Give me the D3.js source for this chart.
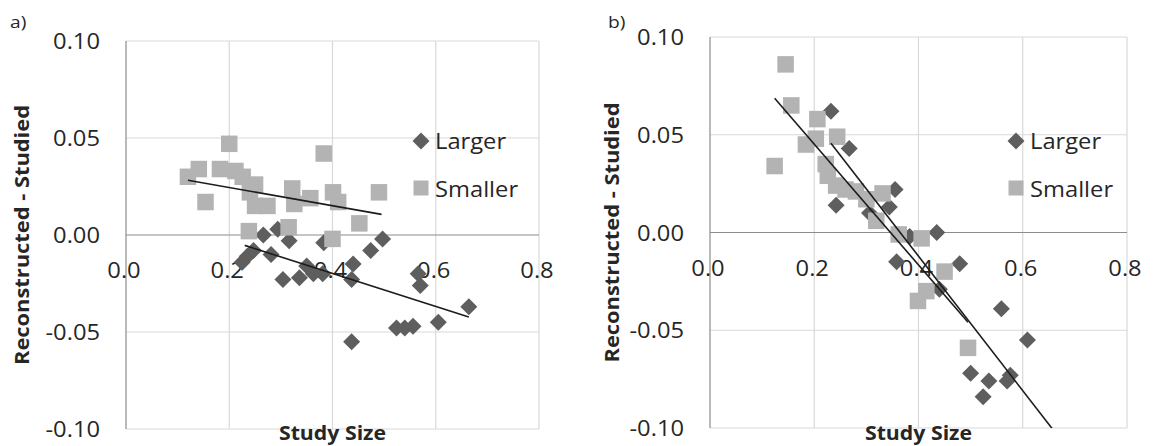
<!DOCTYPE html>
<html><head><meta charset="utf-8">
<script src="https://cdn.jsdelivr.net/npm/d3@7"></script>
<style>body{margin:0;background:#fff}svg{display:block}</style>
</head><body><svg id="c" width="1160" height="446"></svg>
<script>
// ---------------- data ----------------
const xTicks = [0, 0.2, 0.4, 0.6, 0.8];
const xTickLabels = ["0.0", "0.2", "0.4", "0.6", "0.8"];
const yTicks = [0.10, 0.05, 0, -0.05, -0.10];
const yTickLabels = ["0.10", "0.05", "0.00", "-0.05", "-0.10"];
const seriesNames = ["Larger", "Smaller"];
const panelLabels = ["a)", "b)"];
const xTitle = "Study Size";
const yTitle = "Reconstructed - Studied";

// panel a
const aLargerX = [0.225,0.235,0.247,0.266,0.281,0.294,0.304,0.316,0.336,0.350,0.363,0.381,0.383,0.437,0.440,0.437,0.474,0.497,0.524,0.540,0.556,0.566,0.570,0.605,0.664];
const aLargerY = [-0.014,-0.011,-0.008,0.000,-0.010,0.003,-0.023,-0.003,-0.022,-0.016,-0.020,-0.020,-0.004,-0.023,-0.015,-0.055,-0.008,-0.002,-0.048,-0.048,-0.047,-0.020,-0.026,-0.045,-0.037];
const aSmallerX = [0.120,0.141,0.154,0.182,0.200,0.212,0.226,0.240,0.250,0.250,0.274,0.238,0.315,0.322,0.326,0.357,0.383,0.401,0.411,0.400,0.452,0.490];
const aSmallerY = [0.030,0.034,0.017,0.034,0.047,0.033,0.030,0.022,0.026,0.015,0.015,0.002,0.004,0.024,0.016,0.019,0.042,0.022,0.017,-0.002,0.006,0.022];
const aLargerTrend = {x: [0.230, 0.664], slope: -0.085, intercept: 0.0142};
const aSmallerTrend = {x: [0.120, 0.495], slope: -0.047, intercept: 0.0339};

// panel b
const bLargerX = [0.232,0.267,0.242,0.306,0.344,0.355,0.383,0.358,0.435,0.479,0.440,0.559,0.609,0.500,0.535,0.570,0.576,0.524];
const bLargerY = [0.062,0.043,0.014,0.010,0.013,0.022,-0.002,-0.015,0.000,-0.016,-0.029,-0.039,-0.055,-0.072,-0.076,-0.076,-0.073,-0.084];
const bSmallerX = [0.124,0.145,0.156,0.184,0.203,0.206,0.222,0.226,0.244,0.242,0.260,0.280,0.300,0.331,0.319,0.362,0.406,0.450,0.415,0.399,0.495];
const bSmallerY = [0.034,0.086,0.065,0.045,0.048,0.058,0.035,0.029,0.049,0.024,0.022,0.021,0.017,0.020,0.006,-0.001,-0.003,-0.020,-0.030,-0.035,-0.059];
const bLargerTrend = {x: [0.232, 0.664], slope: -0.344, intercept: 0.1255};
const bSmallerTrend = {x: [0.124, 0.495], slope: -0.309, intercept: 0.107};

// ---------------- layout ----------------
const COL = {larger: "#5e5e5e", smaller: "#b3b3b3", grid: "#d9d9d9", axis: "#8c8c8c", text: "#262626", trend: "#1c1c1c"};
const FONT = "'Open Sans', 'Noto Sans', sans-serif";
const SX = 1.13; // horizontal stretch of the reference text

const panels = [
  {id: "a", left: 126, right: 539, top: 41, bottom: 429, label: [10, 28], yTitleX: 22, legend: [421, 141],
   larger: d3.zip(aLargerX, aLargerY), smaller: d3.zip(aSmallerX, aSmallerY), lt: aLargerTrend, st: aSmallerTrend},
  {id: "b", left: 710, right: 1127, top: 37, bottom: 428, label: [608, 28], yTitleX: 612, legend: [1016, 141],
   larger: d3.zip(bLargerX, bLargerY), smaller: d3.zip(bSmallerX, bSmallerY), lt: bLargerTrend, st: bSmallerTrend}
];

const svg = d3.select("#c");

function txt(g, x, y, s, o = {}) {
  return g.append("text")
    .attr("transform", `translate(${x},${y})${o.rot ? " rotate(" + o.rot + ")" : ""} scale(${o.sx || SX},1)`)
    .attr("text-anchor", o.anchor || "start")
    .attr("font-family", FONT)
    .attr("font-size", o.size || 21)
    .attr("font-weight", o.bold ? 700 : 400)
    .attr("fill", COL.text)
    .text(s);
}

const diamond = d3.symbol().type(d3.symbolDiamond2 || d3.symbolDiamond);
function diamondPath(r) { return `M0,${-r}L${r},0L0,${r}L${-r},0Z`; }

panels.forEach((p, i) => {
  const x = d3.scaleLinear().domain([0, 0.8]).range([p.left, p.right]);
  const y = d3.scaleLinear().domain([-0.1, 0.1]).range([p.bottom, p.top]);
  const g = svg.append("g");

  // grid
  g.selectAll(".gx").data(xTicks.filter(d => d !== 0)).join("line")
    .attr("x1", d => x(d)).attr("x2", d => x(d)).attr("y1", y(0.1)).attr("y2", y(-0.1))
    .attr("stroke", COL.grid).attr("stroke-width", 1.2);
  g.selectAll(".gy").data(yTicks.filter(d => d !== 0)).join("line")
    .attr("x1", x(0)).attr("x2", x(0.8)).attr("y1", d => y(d)).attr("y2", d => y(d))
    .attr("stroke", COL.grid).attr("stroke-width", 1.2);
  // axes lines
  g.append("line").attr("x1", x(0)).attr("x2", x(0)).attr("y1", y(0.1)).attr("y2", y(-0.1))
    .attr("stroke", COL.axis).attr("stroke-width", 1.2);
  g.append("line").attr("x1", x(0)).attr("x2", x(0.8)).attr("y1", y(0)).attr("y2", y(0))
    .attr("stroke", COL.axis).attr("stroke-width", 1.2);

  // tick labels
  yTicks.forEach((t, k) => txt(g, x(0) - 26, y(t) + 8, yTickLabels[k], {anchor: "end"}));
  xTicks.forEach((t, k) => txt(g, x(t) - 2, y(0) + 43, xTickLabels[k], {anchor: "middle"}));

  // titles
  txt(g, p.yTitleX + 7, (p.top + p.bottom) / 2, yTitle, {anchor: "middle", rot: -90, bold: true, size: 19, sx: 1.15});
  txt(g, (p.left + p.right) / 2, 440, xTitle, {anchor: "middle", bold: true, size: 19, sx: 1.12});
  txt(svg, p.label[0], p.label[1], panelLabels[i], {size: 17});

  // markers: Larger (diamonds) first, then Smaller (squares)
  const clipId = "clip" + p.id;
  svg.append("clipPath").attr("id", clipId).append("rect")
    .attr("x", p.left).attr("y", p.top).attr("width", p.right - p.left).attr("height", p.bottom - p.top);
  const m = g.append("g").attr("clip-path", `url(#${clipId})`);
  m.selectAll(".lg").data(p.larger).join("path")
    .attr("transform", d => `translate(${x(d[0])},${y(d[1])})`)
    .attr("d", diamondPath(8.5)).attr("fill", COL.larger);
  const sq = 16.5;
  m.selectAll(".sm").data(p.smaller).join("rect")
    .attr("x", d => x(d[0]) - sq / 2).attr("y", d => y(d[1]) - sq / 2)
    .attr("width", sq).attr("height", sq).attr("fill", COL.smaller);

  // trendlines
  [p.lt, p.st].forEach(t => {
    m.append("line")
      .attr("x1", x(t.x[0])).attr("y1", y(t.intercept + t.slope * t.x[0]))
      .attr("x2", x(t.x[1])).attr("y2", y(t.intercept + t.slope * t.x[1]))
      .attr("stroke", COL.trend).attr("stroke-width", 1.6);
  });

  // legend
  const [lx, ly] = p.legend;
  g.append("path").attr("transform", `translate(${lx},${ly})`).attr("d", diamondPath(8.5)).attr("fill", COL.larger);
  g.append("rect").attr("x", lx - 7.5).attr("y", ly + 47 - 7.5).attr("width", 15).attr("height", 15).attr("fill", COL.smaller);
  txt(g, lx + 14, ly + 8, seriesNames[0]);
  txt(g, lx + 14, ly + 56, seriesNames[1]);
});
</script></body></html>
